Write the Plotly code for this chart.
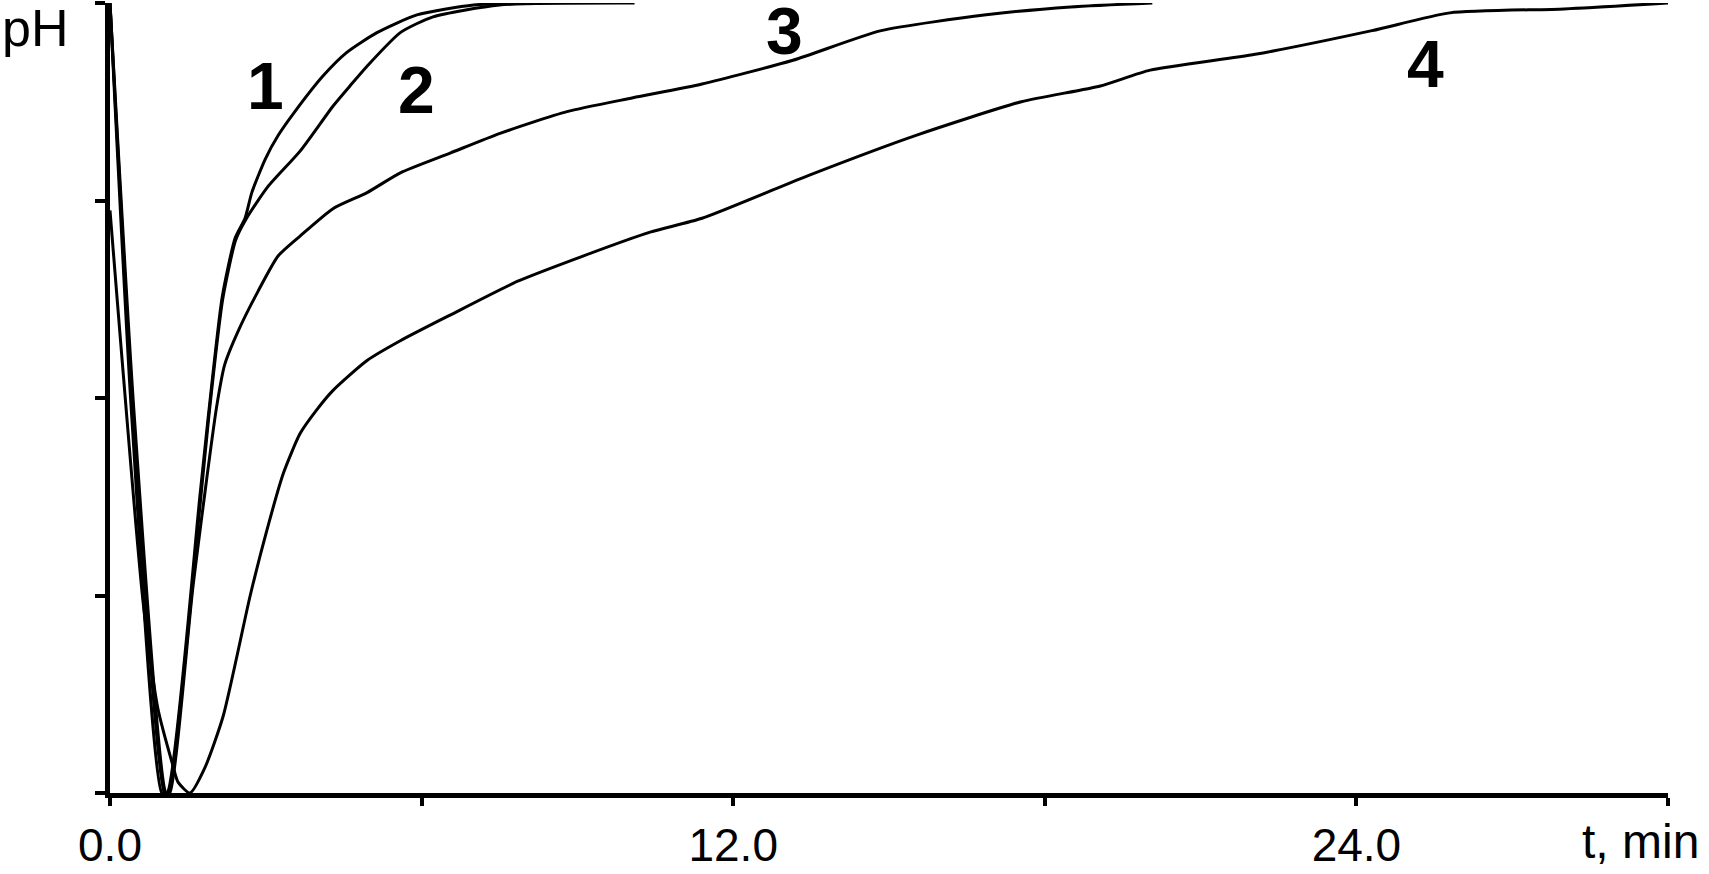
import plotly.graph_objects as go

# ---- data (t in min, pH in axis units 0..4) ----
t1 = [0.0, 0.42, 1.0, 1.1, 1.73, 1.89, 2.16, 2.41, 2.6, 2.73, 2.99, 3.24, 3.56, 4.1, 4.56, 5.14, 5.91, 7.0, 8.3]
p1 = [4.0, 1.9, 0.0, 0.0, 1.5, 1.9, 2.51, 2.81, 2.91, 3.04, 3.21, 3.33, 3.45, 3.63, 3.75, 3.85, 3.94, 3.99, 4.0]

t2 = [0.0, 0.45, 1.05, 1.12, 1.75, 1.9, 2.17, 2.42, 2.63, 3.04, 3.66, 4.3, 4.62, 4.95, 5.59, 6.22, 7.5, 10.1]
p2 = [4.0, 1.9, 0.0, 0.0, 1.5, 1.9, 2.5, 2.8, 2.91, 3.07, 3.25, 3.48, 3.58, 3.68, 3.85, 3.93, 3.99, 4.0]

t3 = [0.0, 0.47, 1.08, 1.15, 1.6, 2.05, 2.21, 2.47, 2.85, 3.24, 3.66, 4.3, 4.95, 5.59, 6.55, 7.51, 8.8, 10.07, 11.4, 13.15, 14.85, 16.87, 18.5, 20.07]
p3 = [4.0, 1.9, 0.0, 0.0, 1.05, 1.95, 2.17, 2.34, 2.54, 2.72, 2.82, 2.96, 3.04, 3.14, 3.24, 3.34, 3.45, 3.52, 3.59, 3.71, 3.86, 3.94, 3.98, 4.0]

t4 = [0.0, 0.64, 0.92, 1.21, 1.31, 1.54, 1.83, 2.18, 2.7, 3.02, 3.34, 3.66, 3.98, 4.3, 4.95, 5.59, 6.55, 7.84, 9.12, 10.4, 11.4, 13.48, 15.52, 17.55, 19.07, 20.03, 22.05, 24.3, 25.8, 28.0, 30.0]
p4 = [2.95, 0.96, 0.43, 0.14, 0.055, 0.0, 0.13, 0.39, 1.0, 1.33, 1.62, 1.82, 1.94, 2.04, 2.19, 2.29, 2.42, 2.59, 2.72, 2.84, 2.91, 3.13, 3.33, 3.50, 3.58, 3.66, 3.74, 3.86, 3.95, 3.97, 4.0]

curve_names = ["1", "2", "3", "4"]
label_t = [3.0, 5.91, 12.98, 25.33]
label_p = [3.58, 3.56, 3.86, 3.69]

x_tickvals = [0, 6, 12, 18, 24, 30]
x_ticktext = ["0.0", "", "12.0", "", "24.0", ""]
y_tickvals = [0, 1, 2, 3, 4]

FONT = "Liberation Sans, Arial, sans-serif"

fig = go.Figure()
for name, tx, py in zip(curve_names, [t1, t2, t3, t4], [p1, p2, p3, p4]):
    fig.add_trace(go.Scatter(x=tx, y=py, mode="lines", name=name,
                             line=dict(color="black", width=3, shape="spline", smoothing=0.6),
                             showlegend=False))

for name, lt, lp in zip(curve_names, label_t, label_p):
    fig.add_annotation(x=lt, y=lp, xref="x", yref="y", text=name, showarrow=False,
                       font=dict(family=FONT, size=66, color="black", weight="bold"),
                       xanchor="center", yanchor="middle")

fig.add_annotation(x=-0.0706, y=0.968, xref="paper", yref="paper", text="pH",
                   showarrow=False, xanchor="left", yanchor="middle",
                   font=dict(family=FONT, size=52, color="black"))
fig.add_annotation(x=1.021, y=-0.0616, xref="paper", yref="paper", text="t, min",
                   showarrow=False, xanchor="right", yanchor="middle",
                   font=dict(family=FONT, size=48, color="black"))

fig.update_layout(
    width=1709, height=874,
    margin=dict(l=110, r=41, t=3, b=76),
    paper_bgcolor="white", plot_bgcolor="white",
    xaxis=dict(range=[0, 30], tickvals=x_tickvals, ticktext=x_ticktext,
               showgrid=False, zeroline=False, showline=True, linecolor="black",
               linewidth=5, ticks="outside", ticklen=8, tickwidth=4, tickcolor="black",
               tickfont=dict(family=FONT, size=46, color="black")),
    yaxis=dict(range=[0, 4], tickvals=y_tickvals, showticklabels=False,
               showgrid=False, zeroline=False, showline=True, linecolor="black",
               linewidth=5, ticks="outside", ticklen=10, tickwidth=4, tickcolor="black"),
)

fig.write_html("out.html", config={"displayModeBar": False},
               post_script="document.body.style.margin='0';document.body.style.overflow='hidden';")
